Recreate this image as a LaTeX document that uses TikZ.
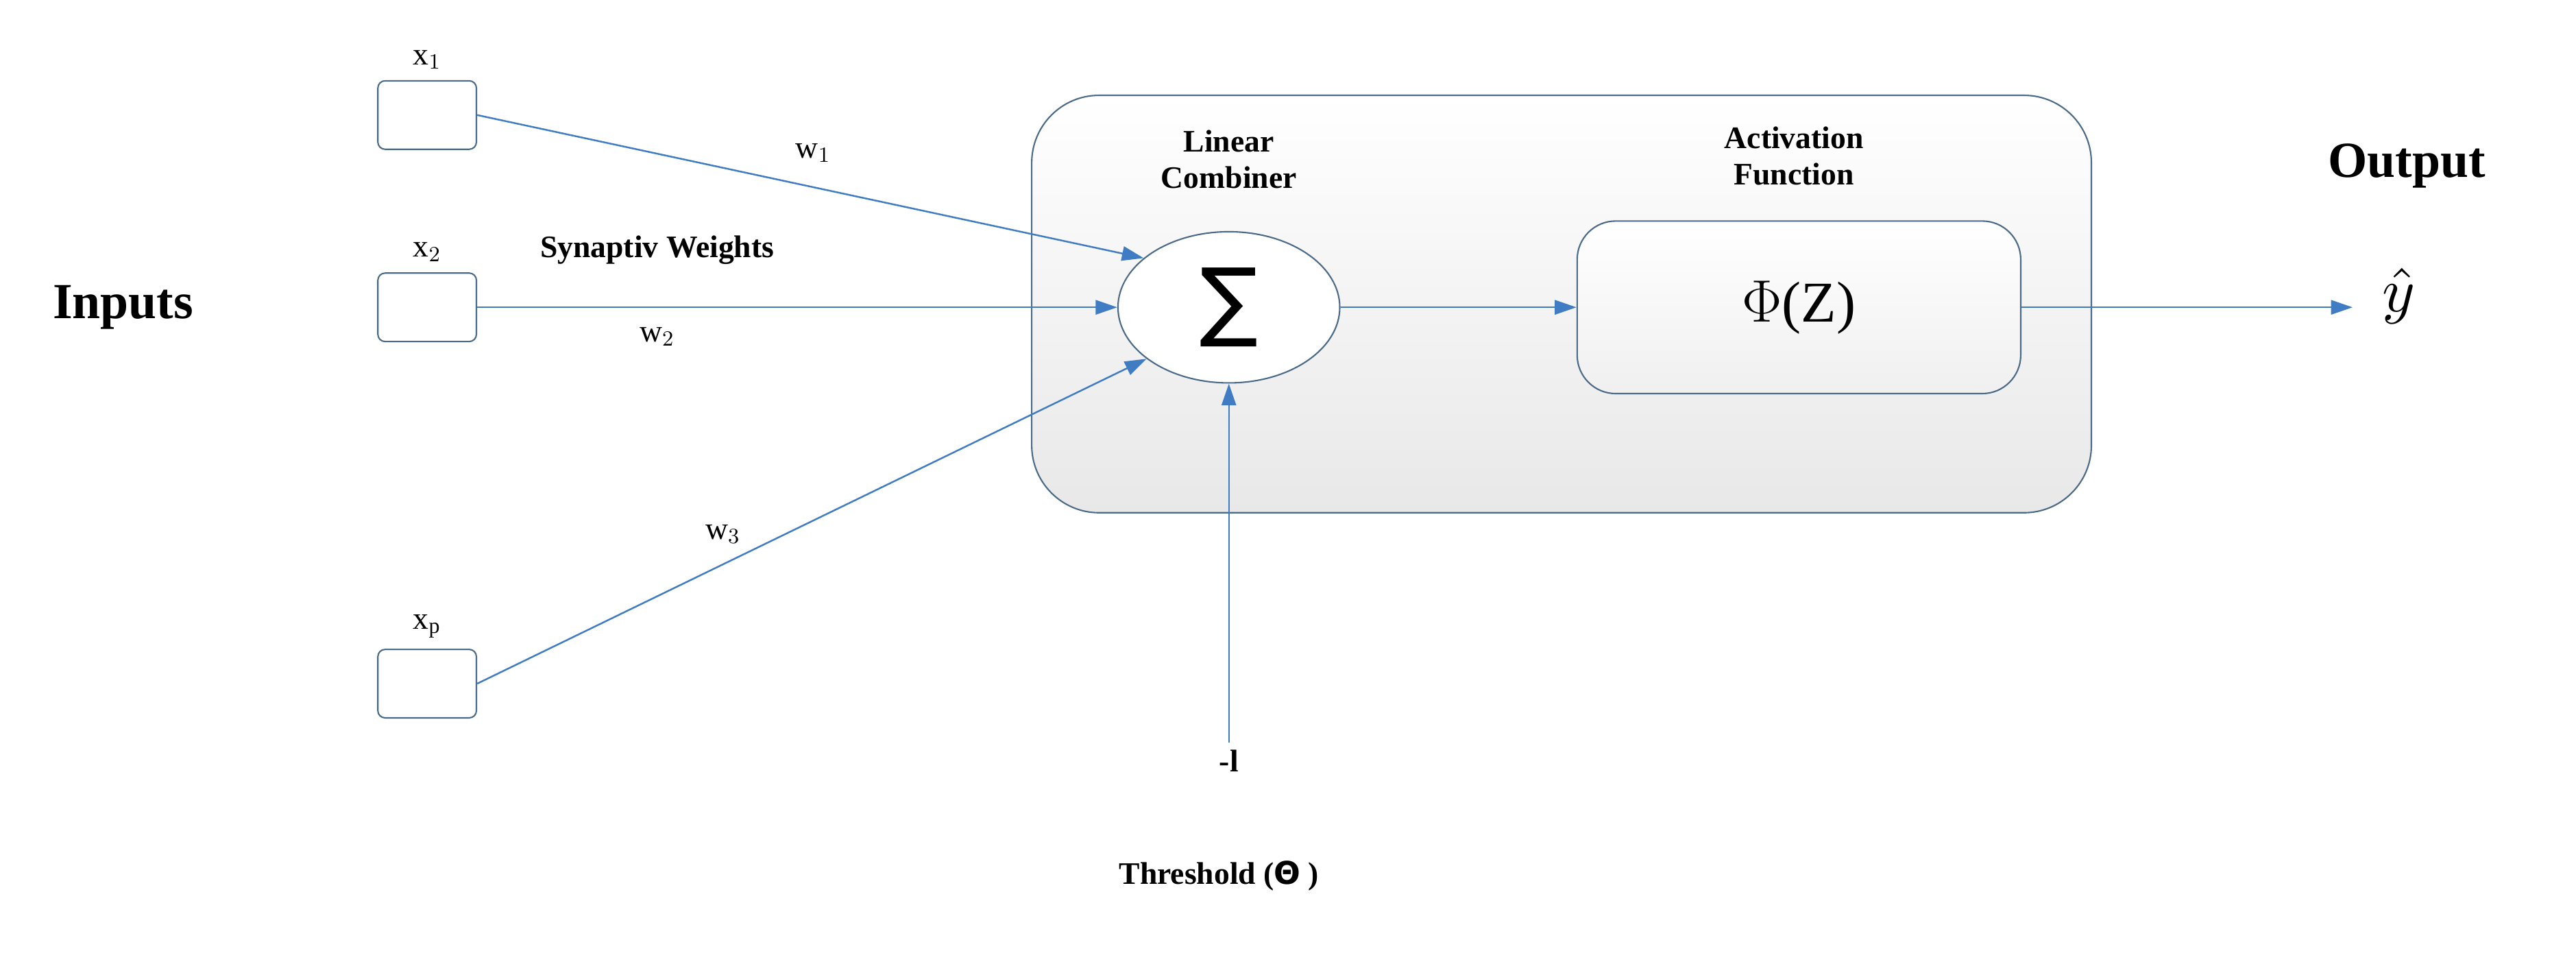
\documentclass[tikz,border=0pt]{standalone}
\usepackage{fontspec}
\usepackage{graphicx}
\setmainfont{Liberation Serif}
\newfontfamily\djv{DejaVu Sans}
\usetikzlibrary{arrows.meta,shapes.geometric}
\definecolor{ln}{HTML}{3F7CC4}
\definecolor{bd}{HTML}{4A6A88}
\begin{document}
\begin{tikzpicture}[x=0.024cm,y=-0.024cm,
  inbox/.style={draw=bd,rounded corners=3pt,minimum width=1.44cm,minimum height=1cm,inner sep=0pt,line width=0.6pt},
  conn/.style={draw=ln,line width=0.7pt,-{Triangle[length=9pt,width=6pt]}},
  lab/.style={font=\fontsize{13}{15}\selectfont},
  blab/.style={font=\bfseries\fontsize{13}{15}\selectfont,align=center}]
\useasboundingbox (0,0) rectangle (1568,585);
% big container
\node[draw=bd,rounded corners=28pt,top color=white,bottom color=gray!18,minimum width=645*0.024cm,minimum height=254*0.024cm,line width=0.6pt] (big) at (950.5,185) {};
\node[draw=bd,rounded corners=16pt,top color=white,bottom color=gray!12,minimum width=270*0.024cm,minimum height=105*0.024cm,line width=0.6pt] (phi) at (1095,187) {\fontsize{24}{28}\selectfont$\Phi$(Z)};
\node[draw=bd,fill=white,ellipse,minimum width=135*0.024cm,minimum height=92*0.024cm,inner sep=0pt,line width=0.6pt] (sig) at (748,187) {\djv\fontsize{36}{40}\selectfont ∑};
% inputs
\node[inbox] (x1) at (260,70) {};
\node[inbox] (x2) at (260,187) {};
\node[inbox] (xp) at (260,416) {};
\node[lab,above=1pt] (lx1) at (x1.north) {x$_1$};
\node[lab,above=1pt] (lx2) at (x2.north) {x$_2$};
\node[lab,above=1pt] (lxp) at (xp.north) {x$_\mathrm{p}$};
\node[font=\bfseries\fontsize{21}{24}\selectfont] (inp) at (75,187) {Inputs};
\node[font=\bfseries\fontsize{21}{24}\selectfont] (out) at (1465,101) {Output};
\node (yh) at (1460,180) {\scalebox{2.6}{$\hat{y}$}};
\node[blab] (lc) at (748,97) {Linear\\Combiner};
\node[blab] (af) at (1092,95) {Activation\\Function};
\node[blab] (sw) at (400,152) {Synaptiv Weights};
\node[lab] (w1) at (495,93) {w$_1$};
\node[lab] (w2) at (400,205) {w$_2$};
\node[lab] (w3) at (440,325) {w$_3$};
\node[blab] (m1) at (748,463) {-l};
\node[blab] (th) at (742,533) {Threshold ({\djv\bfseries Θ} )};
\coordinate (tend) at (748,452);
\coordinate (yend) at (1432,187);
% connectors
\draw[conn] (x1.east) -- (sig.150);
\draw[conn] (x2.east) -- (sig.west);
\draw[conn] (xp.east) -- (sig.212);
\draw[conn] (sig.east) -- (phi.west);
\draw[conn] (phi.east) -- (yend);
\draw[conn] (tend) -- (sig.south);
\end{tikzpicture}
\end{document}
